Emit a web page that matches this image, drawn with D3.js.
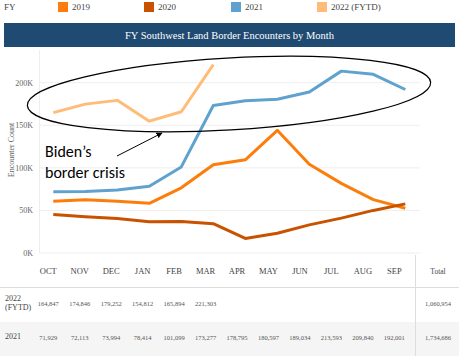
<!DOCTYPE html>
<html><head><meta charset="utf-8">
<script src="https://cdn.jsdelivr.net/npm/d3@7"></script>
<style>body{margin:0;background:#fff}svg{display:block}</style>
</head><body>
<script>
const months = ["OCT","NOV","DEC","JAN","FEB","MAR","APR","MAY","JUN","JUL","AUG","SEP"];
const fy2019 = [60781,62469,60782,58317,76545,103731,109415,144116,104311,81777,62707,52546];
const fy2020 = [45250,42643,40565,36585,37119,34460,17106,23237,33049,40929,50014,57674];
const fy2021 = [71929,72113,73994,78414,101099,173277,178795,180597,189034,213593,209840,192001];
const fy2022 = [164847,174846,179252,154812,165894,221303];
const yTicks = [0,50000,100000,150000,200000];
const seriesNames = ["2019","2020","2021","2022 (FYTD)"];
const seriesColors = ["#fc7d0b","#c85200","#5fa2ce","#ffbc79"];
const totals2022 = "1,060,954";
const totals2021 = "1,734,686";

const W=459,H=356;
const svg=d3.select("body").append("svg").attr("width",W).attr("height",H);
const serif="'Liberation Serif','DejaVu Serif',serif";

// legend
svg.append("text").attr("x",4).attr("y",10).attr("font-family",serif).attr("font-size",9).attr("fill","#444").text("FY");
const legX=[58,144,231,317];
seriesNames.forEach((n,i)=>{
  svg.append("rect").attr("x",legX[i]).attr("y",2).attr("width",10).attr("height",10).attr("fill",seriesColors[i]);
  svg.append("text").attr("x",legX[i]+14).attr("y",10).attr("font-family",serif).attr("font-size",9).attr("fill","#444").text(n);
});

// title bar
svg.append("rect").attr("x",4).attr("y",23).attr("width",451).attr("height",24).attr("fill","#1f4a72");
svg.append("text").attr("x",229.5).attr("y",39).attr("text-anchor","middle").attr("font-family",serif).attr("font-size",10.5).attr("fill","#fff").text("FY Southwest Land Border Encounters by Month");

// scales
const x=d3.scalePoint().domain(months).range([53.3,405.3]);
const y=d3.scaleLinear().domain([0,200000]).range([253,82.7]);

// grid
svg.append("g").selectAll("line").data(yTicks).join("line")
  .attr("x1",39).attr("x2",420).attr("y1",d=>y(d)).attr("y2",d=>y(d))
  .attr("stroke","#eeeeee").attr("stroke-width",1);
svg.append("line").attr("x1",39.5).attr("x2",39.5).attr("y1",50).attr("y2",253).attr("stroke","#eeeeee");
svg.append("line").attr("x1",415.5).attr("x2",415.5).attr("y1",255).attr("y2",356).attr("stroke","#dddddd");

// y axis
const ya=svg.append("g").attr("transform","translate(36,0)").call(d3.axisLeft(y).tickValues(yTicks).tickSize(0).tickFormat(d=>(d/1000)+"K"));
ya.select(".domain").remove();
ya.selectAll("text").attr("font-family",serif).attr("font-size",8).attr("fill","#666").attr("dx",0);
svg.append("text").attr("transform","translate(14,150) rotate(-90)").attr("text-anchor","middle")
  .attr("font-family",serif).attr("font-size",8).attr("fill","#666").text("Encounter Count");

// lines
const line=d3.line().x((d,i)=>x(months[i])).y(d=>y(d));
[fy2019,fy2020,fy2021,fy2022].forEach((s,i)=>{
  svg.append("path").datum(s).attr("d",line).attr("fill","none").attr("stroke",seriesColors[i]).attr("stroke-width",3).attr("stroke-linejoin","round");
});

// annotation ellipse
svg.append("ellipse").attr("cx",229).attr("cy",94).attr("rx",202).attr("ry",36)
  .attr("transform","rotate(-3.3,229,94)").attr("fill","none").attr("stroke","#000").attr("stroke-width",1.2);
svg.append("defs").append("marker").attr("id","ah").attr("viewBox","0 0 10 10").attr("refX",9).attr("refY",5)
  .attr("markerWidth",6).attr("markerHeight",6).attr("orient","auto")
  .append("path").attr("d","M0,0L10,5L0,10z").attr("fill","#000");
svg.append("line").attr("x1",117).attr("y1",156).attr("x2",162).attr("y2",133).attr("stroke","#000").attr("stroke-width",1).attr("marker-end","url(#ah)");
const ann=svg.append("text").attr("font-family","Carlito,Lato,'Open Sans',sans-serif").attr("font-size",16).attr("fill","#000");
ann.append("tspan").attr("x",45).attr("y",157).text("Biden’s");
ann.append("tspan").attr("x",45).attr("y",178).text("border crisis");

// table
const tx=d3.scalePoint().domain(months).range([48.3,394.3]);
svg.append("rect").attr("x",0).attr("y",322).attr("width",W).attr("height",34).attr("fill","#f5f5f5");
svg.append("line").attr("x1",0).attr("x2",W).attr("y1",287.5).attr("y2",287.5).attr("stroke","#dddddd");
svg.append("line").attr("x1",415.5).attr("x2",415.5).attr("y1",256).attr("y2",356).attr("stroke","#dddddd");
const fmt=d3.format(",");
svg.append("g").selectAll("text").data(months).join("text")
  .attr("x",d=>tx(d)).attr("y",274).attr("text-anchor","middle").attr("font-family",serif).attr("font-size",8.5).attr("fill","#444").text(d=>d);
svg.append("text").attr("x",438).attr("y",274).attr("text-anchor","middle").attr("font-family",serif).attr("font-size",7.5).attr("fill","#444").text("Total");
svg.append("text").attr("x",5).attr("y",301).attr("font-family",serif).attr("font-size",8).attr("fill","#444").text("2022");
svg.append("text").attr("x",5).attr("y",310).attr("font-family",serif).attr("font-size",8).attr("fill","#444").text("(FYTD)");
svg.append("text").attr("x",5).attr("y",339).attr("font-family",serif).attr("font-size",8).attr("fill","#444").text("2021");
svg.append("g").selectAll("text").data(fy2022).join("text")
  .attr("x",(d,i)=>tx(months[i])).attr("y",306).attr("text-anchor","middle").attr("font-family",serif).attr("font-size",6.5).attr("fill","#555").text(d=>fmt(d));
svg.append("g").selectAll("text").data(fy2021).join("text")
  .attr("x",(d,i)=>tx(months[i])).attr("y",340).attr("text-anchor","middle").attr("font-family",serif).attr("font-size",6.5).attr("fill","#555").text(d=>fmt(d));
svg.append("text").attr("x",438).attr("y",306).attr("text-anchor","middle").attr("font-family",serif).attr("font-size",6.5).attr("fill","#555").text(totals2022);
svg.append("text").attr("x",438).attr("y",340).attr("text-anchor","middle").attr("font-family",serif).attr("font-size",6.5).attr("fill","#555").text(totals2021);
</script>
</body></html>
